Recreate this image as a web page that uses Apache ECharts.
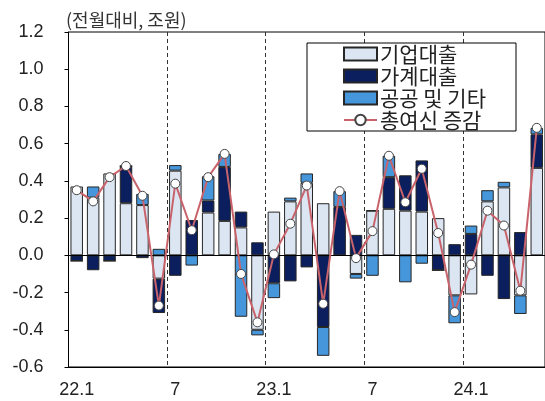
<!DOCTYPE html>
<html>
<head>
<meta charset="utf-8">
<script src="https://cdn.jsdelivr.net/npm/echarts@6/dist/echarts.min.js"></script>
<style>
html,body{margin:0;padding:0;background:#fff;}
#chart{width:545px;height:401px;}
</style>
</head>
<body>
<div id="chart"></div>
<script>
// categories (monthly, 22.1 ~ 24.5)
var months = ['22.1','22.2','22.3','22.4','22.5','22.6','22.7','22.8','22.9','22.10','22.11','22.12',
              '23.1','23.2','23.3','23.4','23.5','23.6','23.7','23.8','23.9','23.10','23.11','23.12',
              '24.1','24.2','24.3','24.4','24.5'];
// 기업대출
var corpLoans = [0.37,0.31,0.44,0.28,0.27,-0.125,0.455,0.0,0.23,0.185,0.15,-0.40,
                 0.235,0.29,0.39,0.28,0.0,-0.10,0.24,0.25,0.24,0.235,0.20,-0.215,
                 -0.21,0.29,0.365,-0.215,0.47];
// 가계대출
var houseLoans = [-0.03,-0.08,-0.03,0.20,-0.015,-0.185,-0.11,0.19,0.065,0.29,0.085,0.07,
                  -0.15,-0.14,-0.065,-0.385,0.26,0.11,0.0,0.17,0.19,0.275,-0.08,0.06,
                  0.115,-0.11,-0.235,0.125,0.18];
// 공공 및 기타
var publicEtc = [0.0,0.06,0.0,0.0,0.06,0.035,0.03,-0.055,0.13,0.07,-0.33,-0.03,
                 -0.08,0.02,0.05,-0.155,0.085,-0.025,-0.11,0.115,-0.145,-0.045,0.0,-0.15,
                 0.045,0.06,0.03,-0.10,0.035];
// 총여신 증감
var totalChange = [0.35,0.29,0.42,0.48,0.32,-0.27,0.385,0.135,0.42,0.545,-0.10,-0.36,
                   0.005,0.17,0.375,-0.26,0.345,-0.015,0.13,0.535,0.285,0.465,0.12,-0.305,
                   -0.05,0.24,0.16,-0.19,0.685];
// y tick settings
var yMin = -0.6, yMax = 1.2, yStep = 0.2;

var chart = echarts.init(document.getElementById('chart'));
var numFont = 'Liberation Sans, Arial, sans-serif';
var krFont = 'Noto Sans CJK KR, sans-serif';
var barBorder = {borderColor:'#262626', borderWidth:1};

chart.setOption({
  animation:false,
  backgroundColor:'#fff',
  title:{text:'(전월대비, 조원)', left:61, top:6,
    textStyle:{fontFamily:krFont, fontSize:18, fontWeight:'normal', color:'#333'}},
  grid:{left:68.5, right:-5, top:32, bottom:34, show:true, borderColor:'#000', borderWidth:1, backgroundColor:'transparent'},
  legend:{
    orient:'vertical', left:307, top:43,
    padding:[0,30,0,36], itemGap:0, itemWidth:33, itemHeight:13,
    backgroundColor:'#fff', borderColor:'#000', borderWidth:1,
    textStyle:{fontFamily:krFont, fontSize:21, lineHeight:22, color:'#222', padding:[0,0,0,-2]},
    data:[{name:'기업대출', icon:'rect'},{name:'가계대출', icon:'rect'},{name:'공공 및 기타', icon:'rect'},{name:'총여신 증감'}]
  },
  xAxis:{
    type:'category', data:months, boundaryGap:true,
    axisLine:{onZero:false, lineStyle:{color:'#000', width:1}},
    axisTick:{show:false},
    axisLabel:{
      interval:function(i){return i%6===0;},
      formatter:function(v){var p=v.split('.');return p[1]==='1'?v:p[1];},
      fontFamily:numFont, fontSize:18, color:'#222', margin:14
    },
    splitLine:{show:true, interval:function(i){return i>0 && i%6===0;},
      lineStyle:{color:'#333', width:1, type:[4,3]}}
  },
  yAxis:{
    type:'value', min:yMin, max:yMax, interval:yStep,
    axisLine:{show:true, lineStyle:{color:'#000', width:1}},
    axisTick:{show:true, length:4, lineStyle:{color:'#000'}},
    splitLine:{show:false},
    axisLabel:{fontFamily:numFont, fontSize:18, color:'#222', margin:25,
      formatter:function(v){ if(Math.abs(v)<1e-9) return '0.0'; return v.toFixed(1);}}
  },
  series:[
    {name:'기업대출', type:'bar', stack:'s', data:corpLoans, barWidth:12.5,
     itemStyle:Object.assign({color:'#dce6f3'}, barBorder),
     markLine:{silent:true, symbol:'none', label:{show:false},
       lineStyle:{color:'#000', width:1, type:'solid'}, data:[{yAxis:0}]}},
    {name:'가계대출', type:'bar', stack:'s', data:houseLoans, barWidth:12.5,
     itemStyle:Object.assign({color:'#0b1f5e'}, barBorder)},
    {name:'공공 및 기타', type:'bar', stack:'s', data:publicEtc, barWidth:12.5,
     itemStyle:Object.assign({color:'#4596db'}, barBorder)},
    {name:'총여신 증감', type:'line', data:totalChange, z:5,
     symbol:'circle', symbolSize:9,
     lineStyle:{color:'#c9636b', width:2},
     itemStyle:{color:'#fff', borderColor:'#444', borderWidth:1}}
  ]
});
</script>
</body>
</html>
